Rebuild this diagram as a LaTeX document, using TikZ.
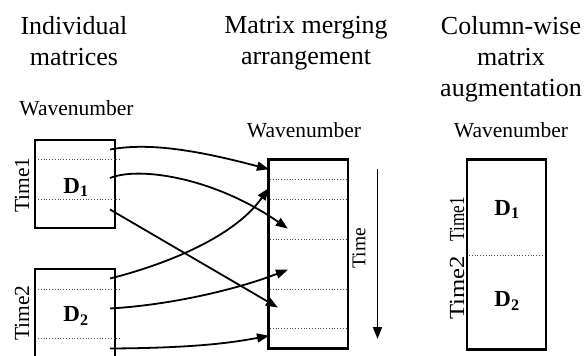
\documentclass[tikz,border=0pt]{standalone}
\usepackage{fontspec}
\setmainfont{Liberation Serif}
\usetikzlibrary{arrows.meta}
\begin{document}
\begin{tikzpicture}[x=1pt,y=-1pt,
  title/.style={font=\fontsize{26}{31}\selectfont, align=center, inner sep=0pt},
  label/.style={font=\fontsize{21.5}{24}\selectfont, inner sep=0pt},
  mat/.style={font=\fontsize{23}{26}\selectfont\bfseries, inner sep=0pt, anchor=base},
  frame/.style={line width=2.6pt},
  sep/.style={line width=0.8pt, dotted, black!70},
  link/.style={line width=1.8pt, -{Triangle[length=12pt,width=9pt]}, shorten >=-1pt}]
\useasboundingbox (0,0) rectangle (584,356);
\clip (0,0) rectangle (584,356);

% column headings
\node[title, anchor=north] (h1) at (74,16) {Individual\\matrices};
\node[title, anchor=north] (h2) at (306,16) {Matrix merging\\arrangement};
\node[title, anchor=north] (h3) at (511,16) {Column-wise\\matrix\\augmentation};

% individual matrices
\node[label, anchor=base] (w1) at (76.5,115) {Wavenumber};
\draw[frame] (35,140) rectangle (115,228);
\draw[frame] (35,269) rectangle (115,370);
\draw[sep] (38,159.5) -- (120,159.5);
\draw[sep] (38,199) -- (120,199);
\draw[sep] (38,289) -- (120,289);
\draw[sep] (38,338.5) -- (120,338.5);
\node[mat] (d1) at (76,193) {D\textsubscript{1}};
\node[mat] (d2) at (76,321.5) {D\textsubscript{2}};
\node[label, rotate=90] (t1) at (22,185) {Time1};
\node[label, rotate=90] (t2) at (22,313) {Time2};

% merged matrix
\node[label, anchor=base] (w2) at (304,137) {Wavenumber};
\draw[frame] (268.5,159.5) rectangle (348,348.5);
\foreach \yy in {179.5,199,239,289,328.5}
  \draw[sep] (270,\yy) -- (346,\yy);
\node[label, font=\fontsize{19.5}{22}\selectfont, rotate=90] (tm) at (359,248) {Time};
\coordinate (ta) at (377.5,169);
\coordinate (tb) at (377.5,339);
\draw[line width=1.8pt, -{Triangle[length=12pt,width=9pt]}] (ta) -- (tb);

% row sources and targets
\coordinate (s1) at (110,149.5);
\coordinate (s2) at (110,178);
\coordinate (s3) at (110,209.5);
\coordinate (s4) at (110,278.5);
\coordinate (s5) at (110,308.5);
\coordinate (s6) at (110,348.5);
\coordinate (e1) at (268,169);
\coordinate (e2) at (287,228);
\coordinate (e3) at (277,307);
\coordinate (e4) at (268,189);
\coordinate (e5) at (287,270);
\coordinate (e6) at (268,336);

\draw[link] (s1) .. controls (150,142) and (200,151) .. (e1);
\draw[link] (s2) .. controls (140,166) and (215,178) .. (e2);
\draw[link] (s3) -- (e3);
\draw[link] (s4) .. controls (160,266) and (233,239) .. (e4);
\draw[link] (s5) .. controls (170,305) and (235,290) .. (e5);
\draw[link] (s6) .. controls (200,348) and (235,342) .. (e6);

% column-wise augmentation
\node[label, anchor=base] (w3) at (511,137) {Wavenumber};
\draw[frame] (467,159.5) rectangle (546,349.5);
\draw[sep] (469,255) -- (544,255);
\node[mat] (d3) at (507,215) {D\textsubscript{1}};
\node[mat] (d4) at (507,306.5) {D\textsubscript{2}};
\node[label, rotate=90] (t3) at (457,219) {\scalebox{0.8}[1]{Time1}};
\node[label, rotate=90] (t4) at (457,288) {\scalebox{1.15}[1]{Time2}};
\end{tikzpicture}
\end{document}
